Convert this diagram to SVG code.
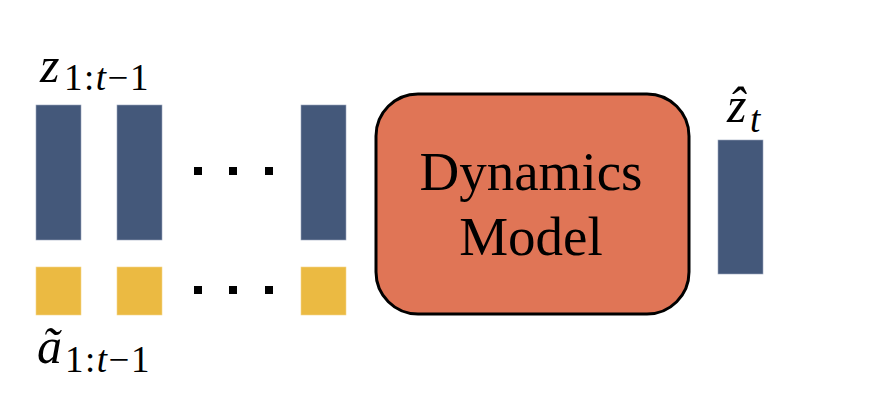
<svg xmlns="http://www.w3.org/2000/svg" width="894" height="404" viewBox="0 0 894 404">
<style>
.z{fill:#44587A;stroke:#9AA6BC;stroke-width:0.6}
.a{fill:#EBBA42;stroke:#F3D58A;stroke-width:0.6}
.dot{fill:#000}
.m{font-family:"Liberation Serif","Times New Roman",serif;fill:#000}
.mi{font-style:italic}
.box{fill:#E07556;stroke:#000;stroke-width:3}
.lbl{font-family:"Liberation Serif","Times New Roman",serif;font-size:55px;fill:#000;text-anchor:middle}
</style>
<rect width="894" height="404" fill="#fff"/>
<g id="latent-inputs">
<rect class="z" x="36" y="105" width="45" height="135"/>
<rect class="z" x="117" y="105" width="45" height="135"/>
<rect class="z" x="301" y="105" width="45" height="135"/>
</g>
<g id="action-inputs">
<rect class="a" x="36" y="267" width="45" height="48"/>
<rect class="a" x="117" y="267" width="45" height="48"/>
<rect class="a" x="301" y="267" width="45" height="48"/>
</g>
<g id="ellipsis">
<rect class="dot" x="194" y="167" width="8" height="8"/>
<rect class="dot" x="229" y="167" width="8" height="8"/>
<rect class="dot" x="265" y="167" width="8" height="8"/>
<rect class="dot" x="194" y="286" width="8" height="8"/>
<rect class="dot" x="229" y="286" width="8" height="8"/>
<rect class="dot" x="265" y="286" width="8" height="8"/>
</g>
<g id="label-z">
<text class="m" y="82"><tspan class="mi" x="40" font-size="50">z</tspan><tspan font-size="37" x="64" y="90" letter-spacing="1.5">1:<tspan class="mi">t</tspan>−1</tspan></text>
</g>
<g id="label-a">
<text class="m" y="363"><tspan class="mi" x="37" font-size="50">ã</tspan><tspan font-size="37" x="65" y="372" letter-spacing="1.5">1:<tspan class="mi">t</tspan>−1</tspan></text>
</g>
<g id="dynamics-model">
<rect class="box" x="376" y="94" width="313" height="220" rx="42" ry="42"/>
<text class="lbl" x="531" y="190">Dynamics</text>
<text class="lbl" x="531" y="255">Model</text>
</g>
<g id="prediction">
<rect class="z" x="718" y="140" width="45" height="134"/>
<text class="m" y="122"><tspan class="mi" x="727" font-size="50">ẑ</tspan><tspan class="mi" x="750" y="132" font-size="37">t</tspan></text>
</g>
<g id="connectors"></g>
</svg>
